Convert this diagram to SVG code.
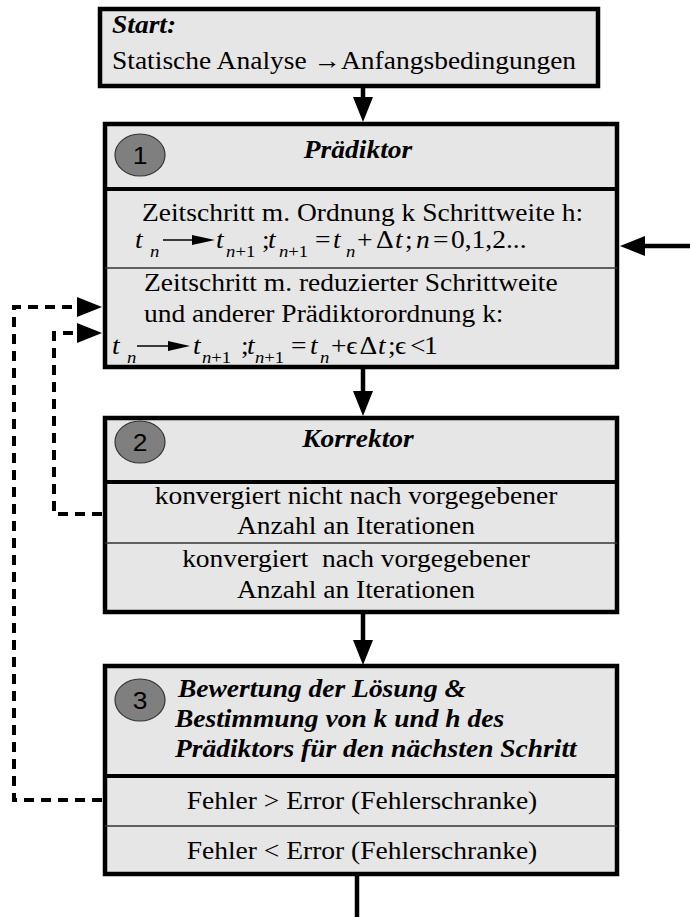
<svg xmlns="http://www.w3.org/2000/svg" width="690" height="917" viewBox="0 0 690 917">
  <style>
    .box { fill: #e6e6e6; stroke: #000; stroke-width: 4.5; }
    .sep { stroke: #000; stroke-width: 4; }
    .thin { stroke: #333; stroke-width: 1.5; }
    .num { fill: #7f7f7f; stroke: #333; stroke-width: 1.2; }
    .numtxt { font-family: "Liberation Sans", Arial, sans-serif; font-size: 24px; fill: #000; text-anchor: middle; }
    .t { font-family: "Liberation Serif", "Times New Roman", serif; font-size: 25px; fill: #000; }
    .hd { font-family: "Liberation Serif", "Times New Roman", serif; font-size: 25px; font-weight: bold; font-style: italic; fill: #000; }
    .c { text-anchor: middle; }
    .m { font-family: "Liberation Serif", "DejaVu Serif", serif; font-size: 25px; fill: #000; }
    .i { font-style: italic; }
    .sub { font-size: 17px; }
    .flow { stroke: #000; stroke-width: 4.5; fill: none; }
    .dash { stroke: #000; stroke-width: 4; fill: none; stroke-dasharray: 10 7; }
  </style>
  <defs>
    <marker id="head" viewBox="0 0 25 20" refX="0" refY="10" markerWidth="25" markerHeight="20" markerUnits="userSpaceOnUse" orient="auto">
      <path d="M0,0 L25,10 L0,20 z" fill="#000"/>
    </marker>
  </defs>

  <!-- start node -->
  <g id="start">
    <rect class="box" x="100" y="9" width="498" height="77"/>
    <text class="hd" transform="translate(112,33) scale(1.1,1)">Start:</text>
    <text class="t" transform="translate(112,69) scale(1.1,1)">Statische Analyse →Anfangsbedingungen</text>
  </g>

  <!-- 1: predictor -->
  <g id="praediktor">
    <rect class="box" x="105" y="124" width="512" height="243"/>
    <line class="sep" x1="105" y1="189" x2="617" y2="189"/>
    <line class="thin" x1="105" y1="268" x2="617" y2="268"/>
    <ellipse class="num" cx="140" cy="155" rx="25" ry="21"/>
    <text class="numtxt" transform="translate(140,164) scale(1.1,1)">1</text>
    <text class="hd c" transform="translate(358,158) scale(1.1,1)">Prädiktor</text>
    <text class="t" transform="translate(142,221) scale(1.1,1)">Zeitschritt m. Ordnung k Schrittweite h:</text>
    <!-- t_n -> t_{n+1}; t_{n+1} = t_n + Δt; n = 0,1,2... -->
    <text class="m" transform="translate(0,248) scale(1.1,1)"><tspan x="122.7" y="0" class="i">t</tspan><tspan x="136.4" y="9" class="i sub">n</tspan><tspan x="196.4" y="0" class="i">t</tspan><tspan x="205.5" y="9" class="sub"><tspan class="i">n</tspan>+1</tspan><tspan x="238.2" y="0">;</tspan><tspan x="243.6" y="0" class="i">t</tspan><tspan x="253.6" y="9" class="sub"><tspan class="i">n</tspan>+1</tspan><tspan x="286.4" y="0">=</tspan><tspan x="302.7" y="0" class="i">t</tspan><tspan x="314.5" y="9" class="i sub">n</tspan><tspan x="324.5" y="0">+</tspan><tspan x="341.8" y="0">Δ</tspan><tspan x="359.1" y="0" class="i">t</tspan><tspan x="368.2" y="0">;</tspan><tspan x="378.2" y="0" class="i">n</tspan><tspan x="393.6" y="0">=</tspan><tspan x="410.0" y="0">0,1,2...</tspan></text>
    <line x1="163" y1="240" x2="193" y2="240" stroke="#000" stroke-width="1.5"/>
    <path d="M192,235 L215,240 L192,245 z" fill="#000"/>
    <text class="t" transform="translate(144,291) scale(1.1,1)">Zeitschritt m. reduzierter Schrittweite</text>
    <text class="t" transform="translate(144,322) scale(1.1,1)">und anderer Prädiktorordnung k:</text>
    <!-- t_n -> t_{n+1}; t_{n+1} = t_n + ϵΔt; ϵ < 1 -->
    <text class="m" transform="translate(0,354) scale(1.1,1)"><tspan x="101.8" y="0" class="i">t</tspan><tspan x="115.5" y="9" class="i sub">n</tspan><tspan x="175.5" y="0" class="i">t</tspan><tspan x="183.6" y="9" class="sub"><tspan class="i">n</tspan>+1</tspan><tspan x="219.1" y="0">;</tspan><tspan x="224.5" y="0" class="i">t</tspan><tspan x="231.8" y="9" class="sub"><tspan class="i">n</tspan>+1</tspan><tspan x="264.5" y="0">=</tspan><tspan x="281.8" y="0" class="i">t</tspan><tspan x="290.9" y="9" class="i sub">n</tspan><tspan x="300.9" y="0">+</tspan><tspan x="314.8" y="0">ϵ</tspan><tspan x="326.8" y="0">Δ</tspan><tspan x="343.6" y="0" class="i">t</tspan><tspan x="352.7" y="0">;</tspan><tspan x="359.1" y="0">ϵ</tspan><tspan x="372.7" y="0">&lt;</tspan><tspan x="385.5" y="0">1</tspan></text>
    <line x1="137" y1="346" x2="169" y2="346" stroke="#000" stroke-width="1.5"/>
    <path d="M168,341 L190,346 L168,351 z" fill="#000"/>
  </g>

  <!-- 2: corrector -->
  <g id="korrektor">
    <rect class="box" x="105" y="418" width="512" height="194"/>
    <line class="sep" x1="105" y1="482" x2="617" y2="482"/>
    <line class="thin" x1="105" y1="543" x2="617" y2="543"/>
    <ellipse class="num" cx="140" cy="442" rx="25" ry="21"/>
    <text class="numtxt" transform="translate(140,451) scale(1.1,1)">2</text>
    <text class="hd c" transform="translate(358,447) scale(1.1,1)">Korrektor</text>
    <text class="t c" transform="translate(356,504) scale(1.1,1)">konvergiert nicht nach vorgegebener</text>
    <text class="t c" transform="translate(356,534) scale(1.1,1)">Anzahl an Iterationen</text>
    <text class="t c" xml:space="preserve" transform="translate(356,567) scale(1.1,1)">konvergiert  nach vorgegebener</text>
    <text class="t c" transform="translate(356,598) scale(1.1,1)">Anzahl an Iterationen</text>
  </g>

  <!-- 3: evaluation -->
  <g id="bewertung">
    <rect class="box" x="105" y="666" width="512" height="208"/>
    <line class="sep" x1="105" y1="776" x2="617" y2="776"/>
    <line class="thin" x1="105" y1="826" x2="617" y2="826"/>
    <ellipse class="num" cx="140" cy="700" rx="25" ry="21"/>
    <text class="numtxt" transform="translate(140,709) scale(1.1,1)">3</text>
    <text class="hd" transform="translate(178,697) scale(1.1,1)">Bewertung der Lösung &amp;</text>
    <text class="hd" transform="translate(175,727) scale(1.1,1)">Bestimmung von k und h des</text>
    <text class="hd" transform="translate(175,757) scale(1.1,1)">Prädiktors für den nächsten Schritt</text>
    <text class="t c" transform="translate(362,809) scale(1.1,1)">Fehler &gt; Error (Fehlerschranke)</text>
    <text class="t c" transform="translate(362,859) scale(1.1,1)">Fehler &lt; Error (Fehlerschranke)</text>
  </g>

  <!-- connectors -->
  <g id="connectors">
    <line class="flow" x1="363" y1="88" x2="363" y2="97" marker-end="url(#head)"/>
    <line class="flow" x1="363" y1="369" x2="363" y2="391" marker-end="url(#head)"/>
    <line class="flow" x1="363" y1="614" x2="363" y2="640" marker-end="url(#head)"/>
    <line class="flow" x1="357" y1="876" x2="357" y2="917"/>
    <line class="flow" x1="690" y1="246" x2="645" y2="246" marker-end="url(#head)"/>
    <polyline class="dash" points="102,800 14,800 14,307 77,307" marker-end="url(#head)"/>
    <polyline class="dash" points="102,514 54,514 54,333 77,333" marker-end="url(#head)"/>
  </g>
</svg>
